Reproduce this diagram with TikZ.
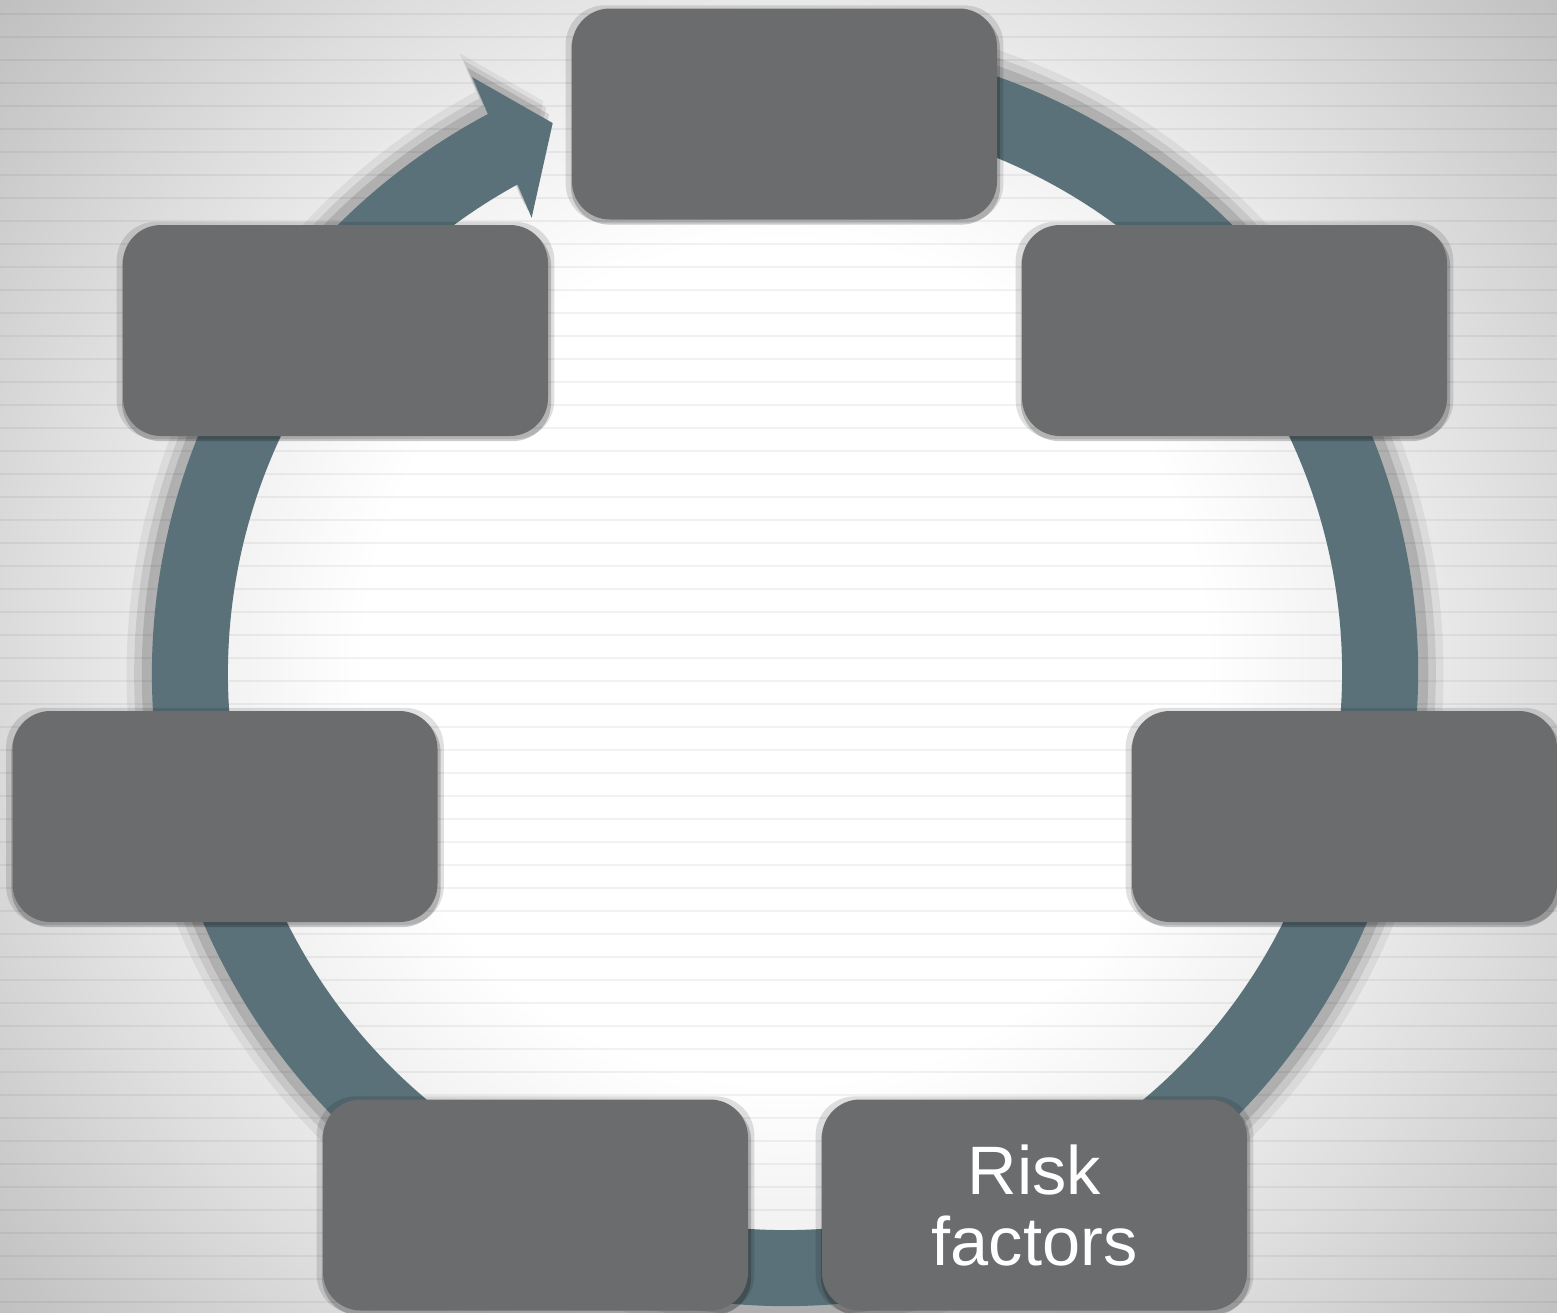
\documentclass[tikz,border=0pt]{standalone}
\usepackage{fontspec}
\setmainfont{Liberation Sans}
\usepackage{xcolor}
\definecolor{ringSlate}{HTML}{5A7179}
\definecolor{boxGray}{HTML}{6B6C6E}
\usetikzlibrary{shadows}
\pgfdeclareradialshading{paperglow}{\pgfpoint{0bp}{0bp}}{%
  color(0bp)=(white); color(10bp)=(white); color(14bp)=(black!6);
  color(18bp)=(black!13); color(25bp)=(black!26); color(50bp)=(black!26)}
% the cycle arrow, drawn round the origin
\newcommand{\ringarrow}[1]{%
  \fill[#1] (80:6.33) arc[start angle=80, end angle=-242, radius=6.33]
    -- (117.7:6.73) -- (112.9:5.97) -- (119.1:5.21) -- (118.7:5.57)
    arc[start angle=-241.3, end angle=80, radius=5.57] -- cycle;}

\begin{document}
\begin{tikzpicture}[
  stagebox/.style={rectangle, rounded corners=0.38cm, fill=boxGray,
    minimum width=4.25cm, minimum height=2.11cm, inner sep=0pt,
    align=center, text=white, font=\fontsize{19.5}{20.2}\selectfont,
    drop shadow={shadow xshift=0cm, shadow yshift=0cm, shadow scale=1.03, opacity=0.12, fill=black},
    drop shadow={shadow xshift=0.01cm, shadow yshift=-0.04cm, shadow scale=1.01, opacity=0.2, fill=black}}]
\useasboundingbox (0,0) rectangle (15.57,13.12);
% ---------- paper ----------
\begin{scope}
  \clip (0,0) rectangle (15.57,13.12);
  \shade[shading=paperglow] (7.85,6.5) circle (10.5);
\end{scope}
\foreach \k in {0,...,56} {
  \draw[black, opacity=0.05, line width=0.6pt] (0,{0.1+0.23*\k}) -- (15.57,{0.1+0.23*\k});
}
% ---------- the ring ----------
\begin{scope}[shift={(7.85,6.39)}]
  \ringarrow{black, opacity=0.06, scale=1.04}
  \ringarrow{black, opacity=0.09, scale=1.028}
  \ringarrow{black, opacity=0.12, scale=1.016}
  \ringarrow{ringSlate}
\end{scope}
% ---------- stages ----------
\node[stagebox] (stageTop) at (7.845,11.98) {};
\node[stagebox] (stageUL)  at (3.355,9.815) {};
\node[stagebox] (stageUR)  at (12.345,9.815) {};
\node[stagebox] (stageML)  at (2.25,4.955) {};
\node[stagebox] (stageMR)  at (13.445,4.955) {};
\node[stagebox] (stageBL)  at (5.355,1.07) {};
\node[stagebox] (risk)     at (10.345,1.07) {Risk\\factors};
\end{tikzpicture}
\end{document}
